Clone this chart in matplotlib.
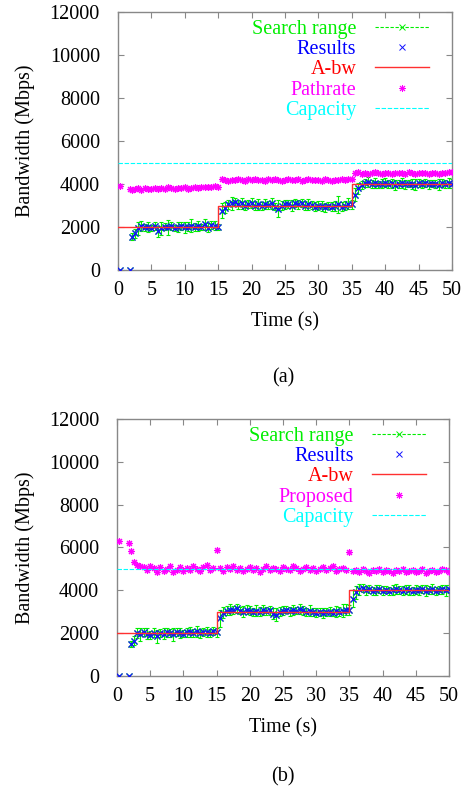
import matplotlib
matplotlib.use("Agg")
import matplotlib.pyplot as plt
from matplotlib.lines import Line2D

plt.rcParams["font.family"] = ["Liberation Serif", "DejaVu Serif"]

# measurement instants (s)
times = [0.3, 1.8,
         2.1, 2.5, 3.0, 3.5, 4.0, 4.5, 5.0, 5.5, 6.0, 6.5, 7.0, 7.5, 8.0, 8.5,
         9.0, 9.5, 10.0, 10.5, 11.0, 11.5, 12.0, 12.5, 13.0, 13.5, 14.0, 14.5, 15.0,
         15.5, 16.0, 16.5, 17.0, 17.5, 18.0, 18.5, 19.0, 19.5, 20.0,
         20.5, 21.0, 21.5, 22.0, 22.5, 23.0, 23.5, 24.0, 24.5, 25.0,
         25.5, 26.0, 26.5, 27.0, 27.5, 28.0, 28.5, 29.0, 29.5, 30.0,
         30.5, 31.0, 31.5, 32.0, 32.5, 33.0, 33.5, 34.0, 34.5, 35.0,
         35.5, 36.0, 36.5, 37.0, 37.5, 38.0, 38.5, 39.0, 39.5, 40.0,
         40.5, 41.0, 41.5, 42.0, 42.5, 43.0, 43.5, 44.0, 44.5, 45.0,
         45.5, 46.0, 46.5, 47.0, 47.5, 48.0, 48.5, 49.0, 49.5, 50.0]

# (a) results and search range half-width (Mbps)
results_a = [0, 0,
             1550, 1700, 1950, 2050, 1980, 2010, 1960, 2040, 1800, 1950, 2020, 1990, 2050, 1960,
             2000, 2030, 1980, 2010, 2060, 1990, 2040, 2000, 2120, 1970, 2100, 2060, 2010,
             2750, 2900, 3050, 3100, 3150, 3050, 3100, 3000, 3080, 3120,
             3000, 3050, 2980, 3060, 3020, 3100, 2950, 2850, 3000, 3050,
             3080, 3000, 3120, 3050, 3100, 3000, 3060, 3020, 2950, 3000,
             2980, 2920, 3000, 2950, 2980, 3050, 2950, 3000, 3080, 3050,
             3500, 3800, 3950, 4050, 4100, 4000, 4050, 3980, 4020, 4060,
             3990, 4030, 3950, 4000, 4050, 3980, 4020, 4000, 3960, 4040,
             4000, 4050, 3980, 4020, 4000, 3970, 4030, 4000, 4050, 4020]
search_a = [0, 0,
            150, 200, 300, 250, 180, 220, 150, 200, 250, 300, 180, 350, 200, 150,
            220, 180, 250, 200, 300, 180, 220, 150, 250, 200, 180, 220, 150,
            350, 250, 200, 300, 180, 220, 250, 200, 180, 220,
            200, 250, 180, 220, 200, 250, 180, 400, 200, 220,
            180, 250, 200, 220, 180, 200, 250, 180, 220, 200,
            250, 200, 180, 220, 250, 400, 200, 220, 250, 200,
            300, 250, 200, 180, 220, 200, 250, 180, 200, 220,
            180, 200, 250, 180, 220, 200, 180, 220, 250, 200,
            180, 200, 220, 180, 200, 250, 180, 200, 220, 200]
pathrate_a = [3900, 3750,
              3700, 3760, 3800, 3740, 3820, 3780, 3760, 3830, 3790, 3810, 3770, 3840, 3800, 3780,
              3830, 3810, 3850, 3790, 3830, 3860, 3820, 3850, 3880, 3840, 3870, 3900, 3860,
              4220, 4180, 4150, 4200, 4170, 4230, 4190, 4160, 4210, 4180,
              4240, 4200, 4170, 4150, 4210, 4190, 4230, 4180, 4160, 4200,
              4220, 4170, 4190, 4210, 4150, 4180, 4230, 4200, 4170, 4190,
              4160, 4210, 4180, 4140, 4200, 4170, 4220, 4190, 4250, 4210,
              4500, 4550, 4480, 4520, 4460, 4510, 4540, 4490, 4470, 4520,
              4500, 4460, 4530, 4490, 4510, 4480, 4540, 4500, 4470, 4520,
              4490, 4510, 4460, 4500, 4530, 4480, 4520, 4500, 4540, 4560]

# (b)
results_b = [0, 0,
             1500, 1650, 2000, 1950, 2050, 1980, 1900, 2020, 1850, 2000, 1970, 2040, 2010, 1950,
             2060, 2000, 1980, 2030, 2050, 2000, 2080, 1990, 2040, 2060, 2010, 2090, 2030,
             2700, 2950, 3050, 3100, 3080, 3150, 3050, 3000, 3100, 3050,
             2980, 3040, 3000, 3080, 3020, 3060, 2900, 2850, 3000, 3050,
             3100, 3020, 3080, 3050, 3120, 3060, 3000, 3040, 2980, 2950,
             3000, 2940, 2980, 3000, 2960, 3020, 3000, 3050, 3100, 3080,
             3600, 3900, 4050, 4100, 4000, 4060, 3980, 4020, 4050, 3990,
             4030, 3970, 4010, 4060, 4000, 3980, 4040, 4010, 3960, 4030,
             4000, 4050, 3990, 4020, 4060, 3980, 4010, 4040, 4000, 4050]
search_b = [0, 0,
            150, 200, 250, 300, 200, 250, 180, 220, 300, 200, 250, 200, 180, 300,
            200, 250, 180, 200, 220, 180, 250, 200, 180, 220, 200, 180, 200,
            400, 250, 200, 250, 200, 220, 180, 250, 200, 220,
            180, 250, 200, 220, 180, 200, 250, 300, 200, 220,
            180, 200, 250, 180, 220, 200, 180, 250, 200, 220,
            180, 250, 200, 220, 180, 250, 200, 300, 250, 220,
            400, 300, 250, 200, 220, 200, 180, 250, 200, 220,
            180, 200, 250, 220, 180, 200, 220, 250, 180, 200,
            220, 180, 250, 200, 220, 180, 200, 220, 250, 200]
proposed_b = [6300, 6200,
              5850, 5300, 5200, 5150, 5100, 4950, 5150, 5050, 4850, 5100, 4900, 5000, 5150, 4850,
              4950, 5100, 4900, 5050, 4950, 5150, 5000, 4900, 5100, 5200, 4950, 5050, 5900,
              5050, 4900, 5100, 5000, 5150, 4950, 5050, 4900, 5000, 5100,
              4950, 5050, 4850, 5000, 5150, 4950, 5050, 5000, 4900, 5100,
              5000, 4950, 5150, 5050, 4900, 5000, 5100, 4950, 5050, 4900,
              5000, 5100, 4950, 5050, 5150, 4900, 5000, 5050, 4950, 5800,
              4900, 4950, 4850, 5000, 4900, 4800, 4950, 4900, 5000, 4850,
              4950, 4900, 4800, 4950, 4900, 5000, 4850, 4900, 4950, 4850,
              4900, 5000, 4800, 4900, 4950, 4850, 4900, 5000, 4950, 4850]

# available bandwidth (step) and capacity
abw_times = [0, 15, 35, 50]
abw_values = [2000, 3000, 4000, 4000]
cap_times = [0, 50]
cap_values = [5000, 5000]

GREEN = "#00ee00"
BLUE = "#1010ff"
RED = "#ff3030"
MAGENTA = "#ff00ff"
CYAN = "#00ffff"
ASTER = (8, 2, 0)
FS = 14.5

fig = plt.figure(figsize=(4.7, 7.96), dpi=100)
ax_a = fig.add_axes([0.251, 0.6608, 0.7106, 0.3241])
ax_b = fig.add_axes([0.249, 0.1508, 0.7064, 0.3229])

panels = [(ax_a, results_a, search_a, pathrate_a, "Pathrate", "(a)", 378),
          (ax_b, results_b, search_b, proposed_b, "Proposed", "(b)", 777)]

for ax, res, srch, other, other_name, cap_label, cap_y in panels:
    ax.errorbar(times, res, yerr=srch, fmt="x", color=GREEN, ms=4.5, mew=0.8,
                elinewidth=0.8, capsize=1.5, capthick=0.8, zorder=2)
    ax.plot(times, res, "x", color=BLUE, ms=4.5, mew=0.9, zorder=3)
    ax.step(abw_times, abw_values, where="post", color=RED, lw=1.0, zorder=4)
    ax.plot(times, other, ls="none", marker=ASTER, color=MAGENTA, ms=5, mew=0.8, zorder=5)
    ax.plot(cap_times, cap_values, color=CYAN, lw=0.8, ls=(0, (4, 1.5)), zorder=6)

    ax.set_xlim(0, 50)
    ax.set_ylim(0, 12000)
    ax.set_xticks(range(0, 51, 5))
    ax.set_yticks(range(0, 12001, 2000))
    ax.tick_params(direction="in", top=True, right=True, length=4, width=0.8,
                   color="#888888", labelsize=FS)
    ax.tick_params(axis="y", pad=13)
    ax.tick_params(axis="x", pad=8)
    for sp in ax.spines.values():
        sp.set_color("#888888")
        sp.set_linewidth(1.0)

    ax.set_xlabel("Time (s)", fontsize=FS)
    ax.xaxis.label.set_va("center")
    ax.xaxis.set_label_coords(0.5, -0.2)
    ax.set_ylabel("Bandwidth (Mbps)", fontsize=FS)
    ax.yaxis.label.set_va("center")
    ax.yaxis.set_label_coords(-0.278, 0.5)

    handles = [
        Line2D([], [], color=GREEN, ls=(0, (3, 1.5)), lw=0.8, marker="x", ms=4, mew=0.7),
        Line2D([], [], color=BLUE, ls="none", marker="x", ms=4, mew=0.7),
        Line2D([], [], color=RED, lw=1.0),
        Line2D([], [], color=MAGENTA, ls="none", marker=ASTER, ms=5, mew=0.7),
        Line2D([], [], color=CYAN, lw=0.8, ls=(0, (4, 1.5))),
    ]
    labels = ["Search range", "Results", "A-bw", other_name, "Capacity"]
    ax.legend(handles, labels, loc="upper right", bbox_to_anchor=(0.931, 0.97),
              frameon=False, markerfirst=False, fontsize=FS, numpoints=1,
              handlelength=2.7, handletextpad=0.9, labelspacing=0.06,
              borderpad=0, borderaxespad=0,
              labelcolor=["#00ee00", "#0000ff", "#ff0000", "#ff00ff", "#00ffff"])

    fig.text(283 / 470, 1 - cap_y / 796, cap_label, ha="center", va="center", fontsize=FS)

fig.savefig("out.png", dpi=100)
